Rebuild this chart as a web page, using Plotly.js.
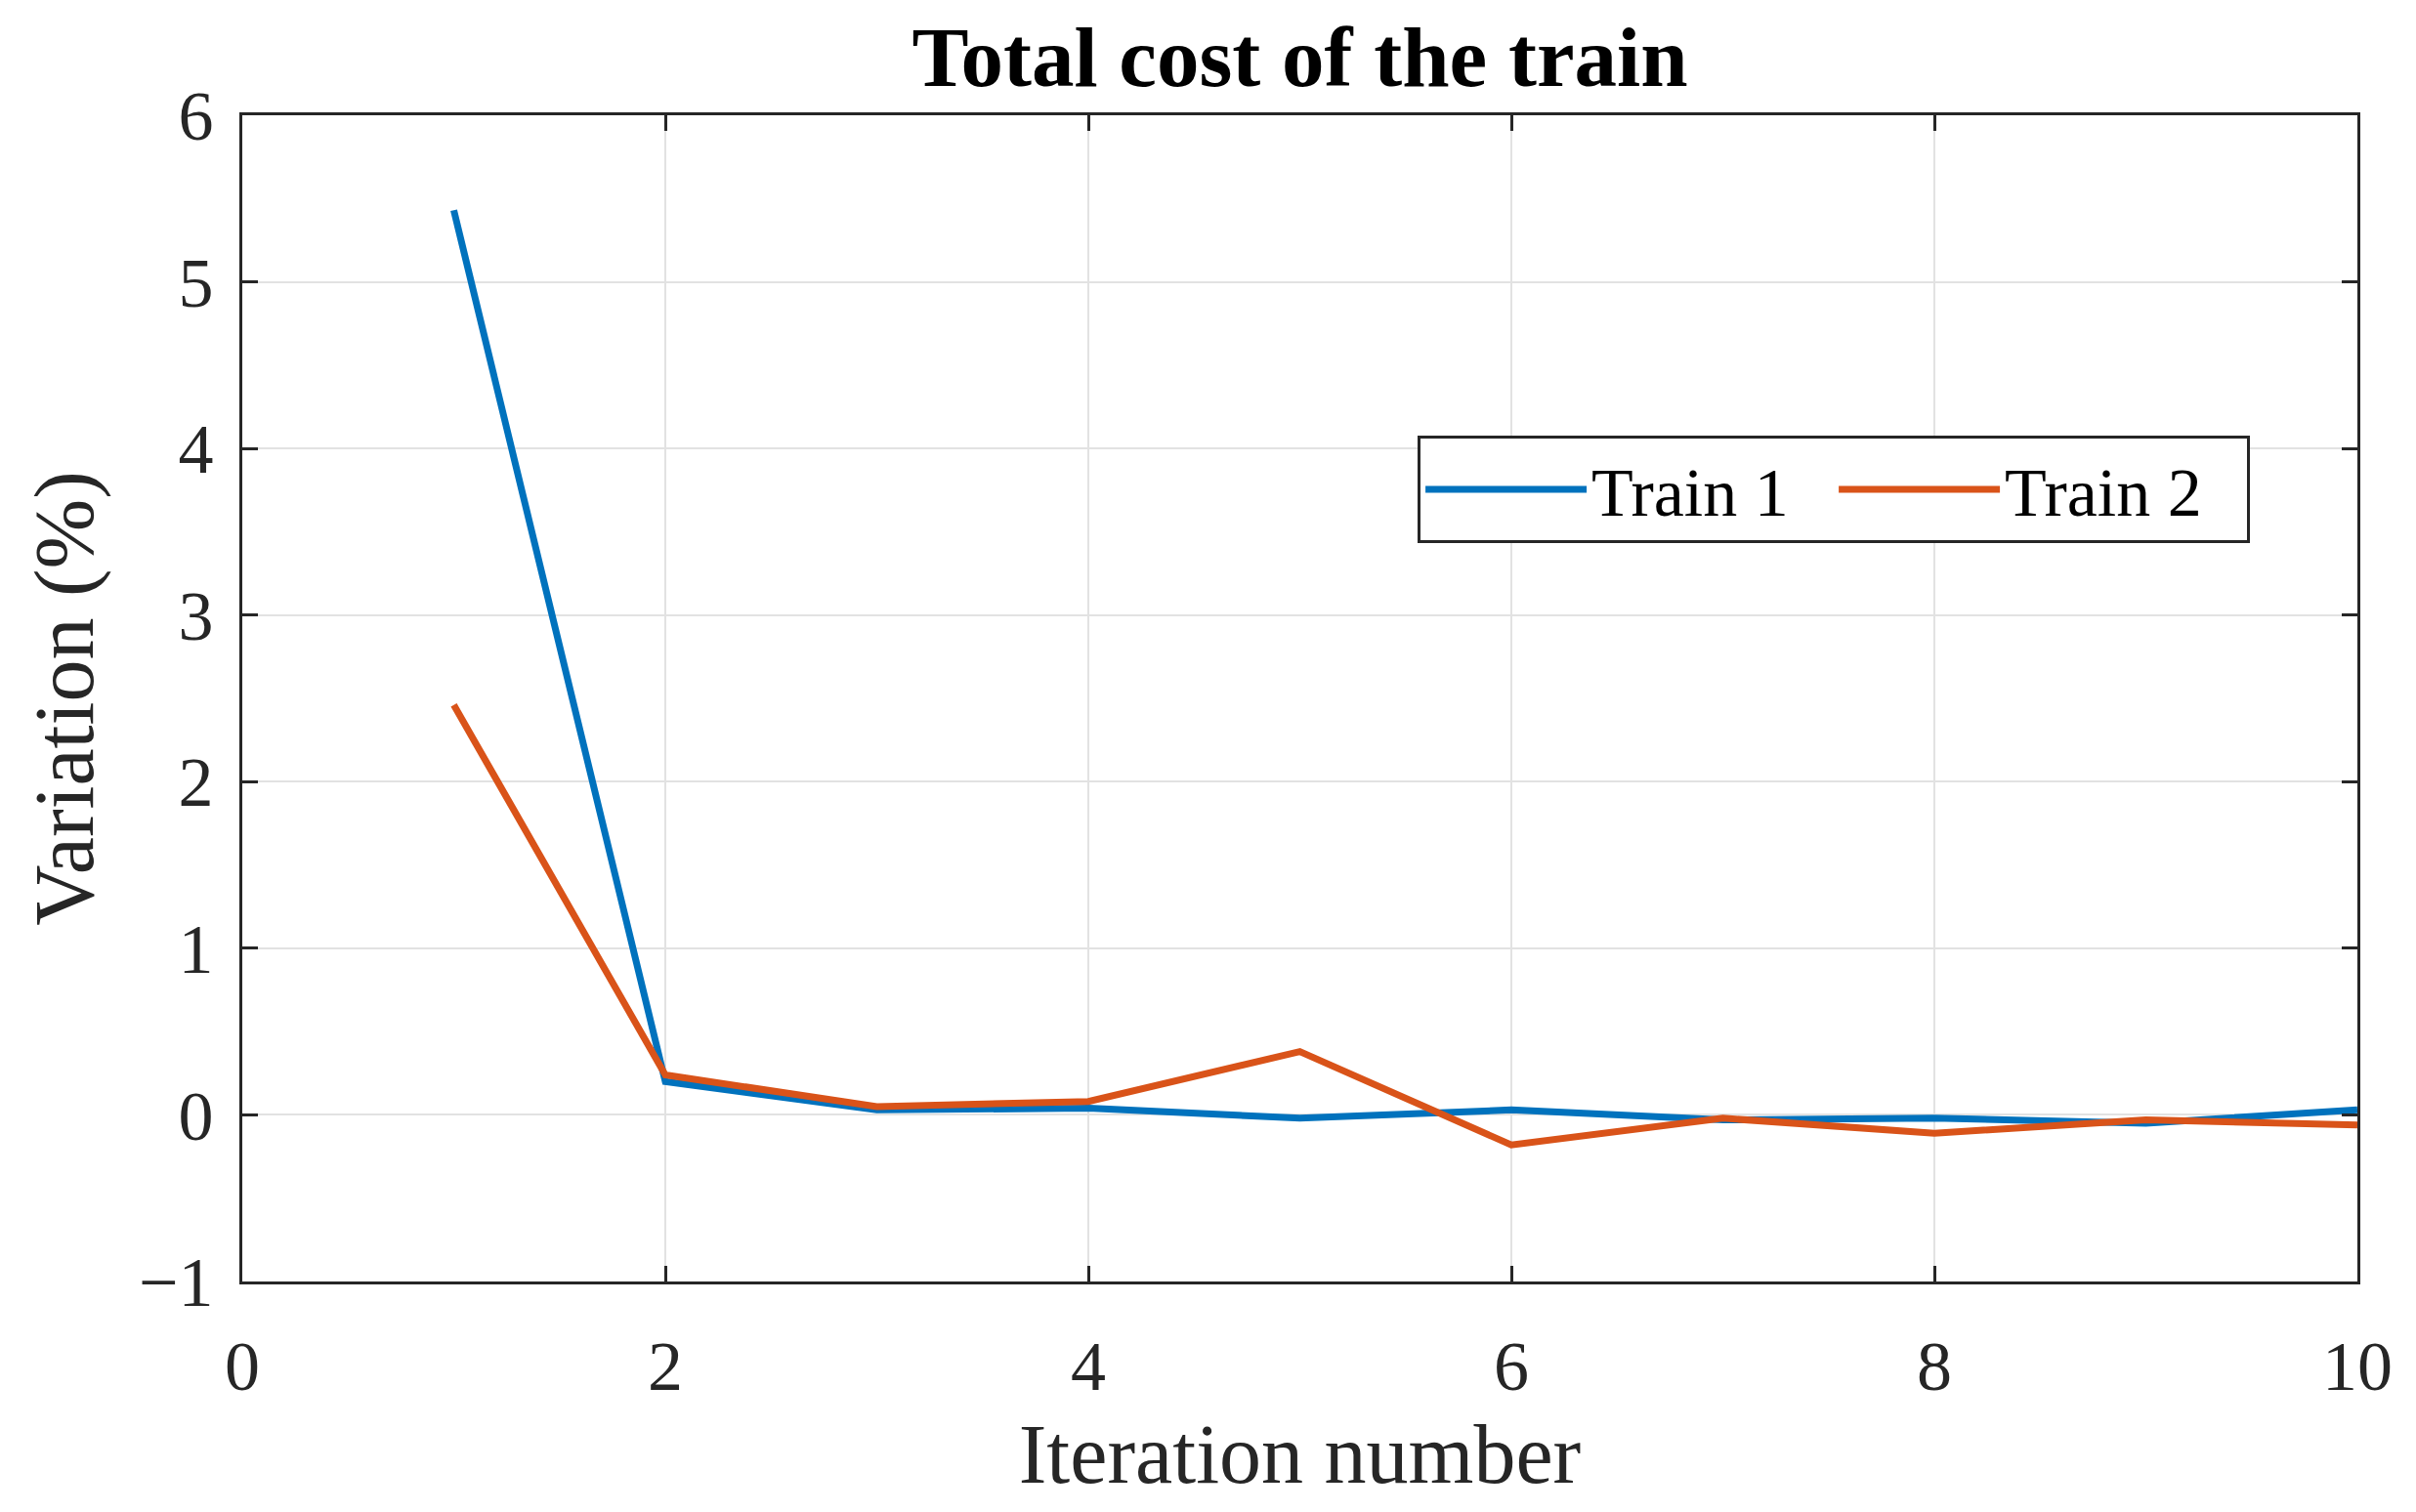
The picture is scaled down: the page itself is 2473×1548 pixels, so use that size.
<!DOCTYPE html>
<html>
<head>
<meta charset="utf-8">
<script src="https://cdn.plot.ly/plotly-3.0.1.min.js"></script>
<style>
  html, body { margin: 0; padding: 0; background: #fff; }
  #myDiv { width: 2473px; height: 1548px; }
</style>
</head>
<body>
<div id="myDiv"></div>
<script>
// values
var iterations = [1, 2, 3, 4, 5, 6, 7, 8, 9, 10];
var train1 = [5.43, 0.20, 0.03, 0.04, -0.02, 0.03, -0.03, -0.02, -0.05, 0.03];
var train2 = [2.46, 0.24, 0.05, 0.08, 0.38, -0.18, -0.02, -0.11, -0.03, -0.06];

var xTicks = [0, 2, 4, 6, 8, 10];
var yTicks = [-1, 0, 1, 2, 3, 4, 5, 6];

var font = 'Liberation Serif, Times New Roman, serif';
var axisColor = '#262626';

var trace1 = {
    x: iterations,
    y: train1,
    type: 'scatter',
    mode: 'lines',
    name: 'Train 1',
    line: {color: '#0072BD', width: 7}
};

var trace2 = {
    x: iterations,
    y: train2,
    type: 'scatter',
    mode: 'lines',
    name: 'Train 2',
    line: {color: '#D95319', width: 7}
};

var axisBase = {
    showline: true,
    linecolor: axisColor,
    linewidth: 3,
    mirror: 'ticks',
    ticks: 'inside',
    ticklen: 16,
    tickwidth: 3,
    tickcolor: axisColor,
    showgrid: true,
    gridcolor: '#e2e2e2',
    gridwidth: 2,
    zeroline: false,
    tickfont: {family: font, size: 72, color: '#262626'}
};

var layout = {
    width: 2473,
    height: 1548,
    paper_bgcolor: '#fff',
    plot_bgcolor: '#fff',
    margin: {l: 248, r: 60, t: 118, b: 236, autoexpand: false},
    font: {family: font, color: '#000'},
    title: {
        text: '<b>Total cost of the train</b>',
        font: {family: font, size: 87, color: '#000'},
        xref: 'paper',
        x: 0.5,
        xanchor: 'center',
        y: 1 - 58 / 1548,
        yanchor: 'middle'
    },
    xaxis: Object.assign({}, axisBase, {
        range: [0, 10],
        tickvals: xTicks,
        ticklabelstandoff: 22,
        title: {text: 'Iteration number', font: {family: font, size: 86, color: '#262626'}, standoff: 20}
    }),
    yaxis: Object.assign({}, axisBase, {
        range: [-1, 6],
        tickvals: yTicks,
        ticktext: yTicks.map(function (v) { return v < 0 ? '\u2212' + Math.abs(v) : String(v); }),
        ticklabelstandoff: 12,
        title: {text: 'Variation (%)', font: {family: font, size: 86, color: '#262626'}, standoff: 18}
    }),
    showlegend: true,
    legend: {
        orientation: 'h',
        x: 0.5557,
        y: 0.7253,
        xanchor: 'left',
        yanchor: 'top',
        bgcolor: '#fff',
        bordercolor: axisColor,
        borderwidth: 3,
        itemwidth: 165,
        entrywidth: 243,
        entrywidthmode: 'pixels',
        font: {family: font, size: 70, color: '#000'}
    }
};

Plotly.newPlot('myDiv', [trace1, trace2], layout, {displayModeBar: false, staticPlot: true});
</script>
</body>
</html>
